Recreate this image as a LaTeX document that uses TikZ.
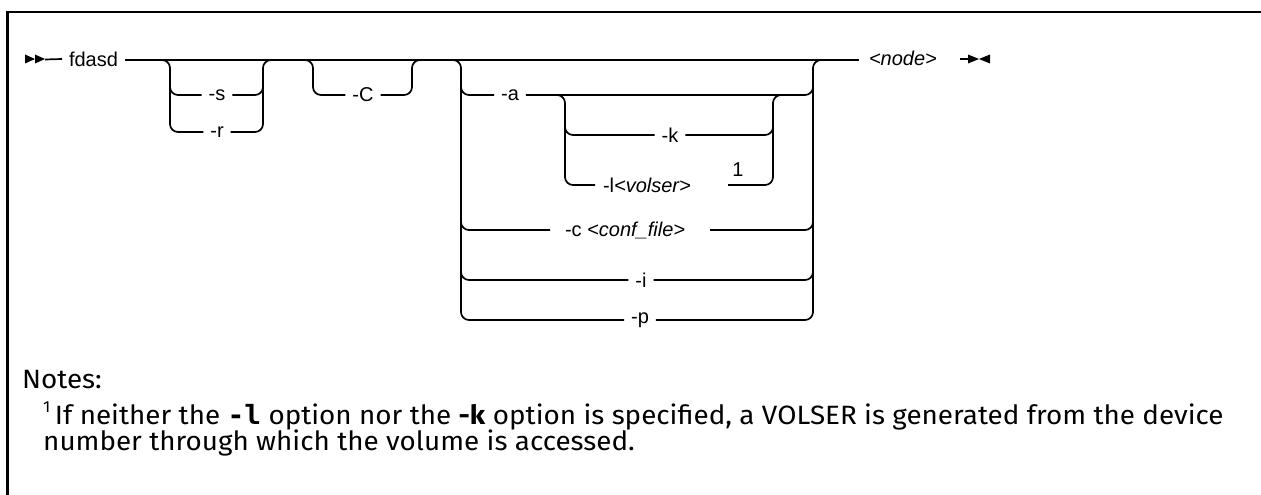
\documentclass[tikz,border=0pt]{standalone}
\usepackage{fontspec}
\setmainfont{Liberation Sans}
\newfontfamily\notefont[FakeStretch=1.05]{Fira Sans}
\newfontfamily\codefont[FakeStretch=1.05]{DejaVu Sans Mono}
\begin{document}
\begin{tikzpicture}[x=1pt,y=-1pt,
  lbl/.style={font=\fontsize{20}{24}\selectfont, inner sep=0pt, outer sep=7pt},
  rail/.style={line width=1.7pt, rounded corners=8pt},
  notes/.style={font=\notefont\fontsize{26.5}{30}\selectfont, inner sep=0pt, anchor=base west}]
\useasboundingbox (0,0) rectangle (1261,495);
% frame
\draw[line width=2.6pt] (7.5,495) -- (7.5,12) -- (1261,12);
% start marker
\fill (25,54.5) -- (35,59) -- (25,63.5) -- cycle;
\fill (35,54.5) -- (45,59) -- (35,63.5) -- cycle;
\node[lbl, anchor=west] (fdasd) at (62,59) {fdasd};
\coordinate (st) at (45,59.5);
\draw[line width=1.7pt] (st) -- (fdasd.west);
\node[lbl, anchor=west] (node) at (862,58) {\itshape <node>};
\draw[line width=1.7pt] ([yshift=-1pt]fdasd.east) -- ([xshift=-3pt,yshift=-2pt]node.west);
% end marker
\coordinate (e0) at (960,59);
\coordinate (e1) at (969,59);
\draw[line width=1.7pt] (e0) -- (e1);
\fill (968,54.5) -- (979,59) -- (968,63.5) -- cycle;
\fill (990,54.5) -- (979,59) -- (990,63.5) -- cycle;
% group 1: -s / -r
\node[lbl] (s) at (217,95) {-s};
\node[lbl] (r) at (217,132) {-r};
\draw[rail] (150,60) -| (170,132) -- (r.west);
\draw[rail] (170,80) |- (s.west);
\draw[rail] (r.east) -| (263,60) -- (280,60);
\draw[rail] (s.east) -| (263,80);
% group 2: -C
\node[lbl] (C) at (363,95) {-C};
\draw[rail] (295,60) -| (313,95) -- (C.west);
\draw[rail] (C.east) -| (412,60) -- (430,60);
% group 3
\node[lbl] (a) at (510,95) {-a};
\node[lbl] (k) at (670,135) {-k};
\node[lbl, anchor=west, outer sep=0pt] (l) at (603,185) {-l\itshape <volser>};
\node[lbl] (fn) at (738,170) {1};
\node[lbl, anchor=west, outer sep=0pt] (cf) at (565,230) {-c \itshape <conf\_file>};
\node[lbl] (i) at (641,280) {-i};
\node[lbl] (p) at (640,320) {-p};
\draw[rail] (445,60) -| (461,320) -- (p.west);
\draw[rail] (461,80) |- (a.west);
\draw[rail] (461,215) |- ([xshift=-15pt]cf.west);
\draw[rail] (461,265) |- (i.west);
\draw[rail] (p.east) -| (813,60) -- (830,60);
\draw[rail] (a.east) -| (813,80);
\draw[rail] ([xshift=25pt]cf.east) -| (813,215);
\draw[rail] (i.east) -| (813,265);
% inner bracket -k / -l
\draw[rail] (550,95) -| (565,185) -- ([xshift=-8pt]l.west);
\draw[rail] (565,120) |- (k.west);
\coordinate (lr) at (728,185);
\draw[rail] (lr) -| (773,95) -- (790,95);
\draw[rail] (k.east) -| (773,120);
% notes
\node[notes] (nt) at (22,388) {Notes:};
\node[notes] (n1) at (43,424) {\raisebox{0.42em}{\fontsize{16}{18}\selectfont 1}\,If neither the {\codefont\bfseries -l} option nor the \textbf{-k} option is specified, a VOLSER is generated from the device};
\node[notes] (n2) at (43,450) {number through which the volume is accessed.};
\end{tikzpicture}
\end{document}
